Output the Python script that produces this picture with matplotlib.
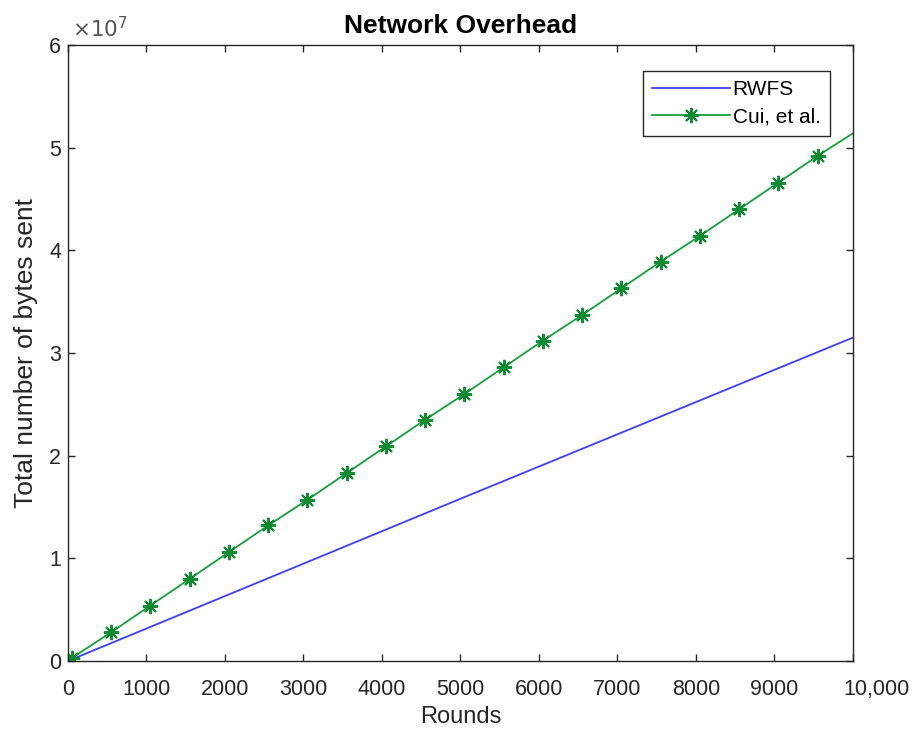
import numpy as np
import matplotlib.pyplot as plt
import matplotlib.transforms as mtransforms
from matplotlib.ticker import FuncFormatter, MultipleLocator

plt.rcParams['font.family'] = ['Liberation Sans', 'DejaVu Sans']

# ── Datos ─────────────────────────────────────────────────────────
rondas_rwfs = [50, 5000, 10000]
bytes_rwfs = [0.016e7, 1.58e7, 3.15e7]

rondas_cui = [50, 550, 1050, 1550, 2050, 2550, 3050, 3550, 4050, 4550,
              5050, 5550, 6050, 6550, 7050, 7550, 8050, 8550, 9050, 9550, 10000]
bytes_cui = [0.03e7, 0.28e7, 0.54e7, 0.80e7, 1.06e7, 1.32e7, 1.57e7, 1.83e7,
             2.09e7, 2.35e7, 2.60e7, 2.86e7, 3.12e7, 3.37e7, 3.63e7, 3.89e7,
             4.14e7, 4.40e7, 4.66e7, 4.92e7, 5.14e7]

xticks = [0, 1000, 2000, 3000, 4000, 5000, 6000, 7000, 8000, 9000, 10000]
xtick_labels = ['0', '1000', '2000', '3000', '4000', '5000', '6000', '7000',
                '8000', '9000', '10,000']

fig = plt.figure(figsize=(9.19, 7.31), dpi=100)
ax = fig.add_axes([0.074, 0.0958, 0.854, 0.8425])

ax.plot(rondas_rwfs, bytes_rwfs, color='#3d3dff', linewidth=1.3, label='RWFS')
ax.plot(rondas_cui, bytes_cui, color='#14a03a', linewidth=1.3, marker=(8, 2, 0),
        markersize=11, markeredgewidth=1.4,
        markevery=list(range(len(rondas_cui) - 1)),
        markeredgecolor='#0e8a30', label='Cui, et al.')

ax.set_xlim(0, 10000)
ax.set_ylim(0, 6e7)
ax.set_xticks(xticks)
ax.set_xticklabels(xtick_labels)
ax.yaxis.set_major_locator(MultipleLocator(1e7))
ax.yaxis.set_major_formatter(FuncFormatter(lambda v, p: f'{v / 1e7:g}'))

ax.tick_params(direction='in', top=True, right=True, length=5, width=1,
               labelsize=15.5, colors='#262626')
ax.tick_params(axis='x', pad=13)
ax.tick_params(axis='y', pad=5)
for s in ax.spines.values():
    s.set_color('#262626')
    s.set_linewidth(1.0)

# la etiqueta 10,000 va corrida a la derecha, como en MATLAB
ult = ax.get_xticklabels()[-1]
ult.set_horizontalalignment('left')
ult.set_transform(ult.get_transform() +
                  mtransforms.ScaledTranslation(-9 / 100, 0, fig.dpi_scale_trans))

ax.text(0.005, 1.004, r'$\times 10^{7}$', transform=ax.transAxes,
        fontsize=15.5, color='#555555', ha='left', va='bottom')

ax.set_xlabel('Rounds', fontsize=17, color='#262626', labelpad=4)
ax.set_ylabel('Total number of bytes sent', fontsize=19, color='#262626', labelpad=8)
ax.set_title('Network Overhead', fontsize=19, fontweight='bold', pad=9)

leg = ax.legend(loc='upper right', bbox_to_anchor=(0.971, 0.958), fontsize=15,
                fancybox=False, framealpha=1, edgecolor='#262626',
                borderaxespad=0, handlelength=3.7, handletextpad=0.15,
                borderpad=0.45, labelspacing=0.4)
leg.get_frame().set_linewidth(1.0)

fig.savefig('out.png', dpi=100)
